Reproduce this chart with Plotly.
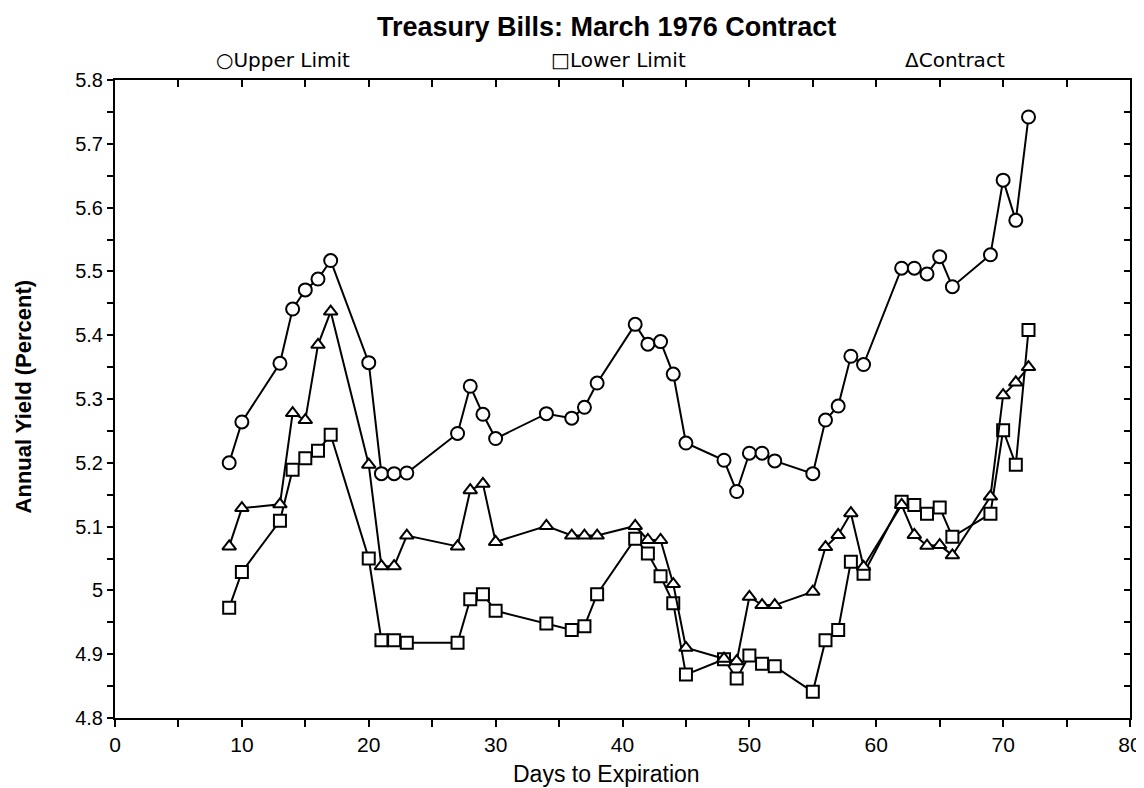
import plotly.graph_objects as go

days = [9, 10, 13, 14, 15, 16, 17, 20, 21, 22, 23, 27, 28, 29, 30, 34, 36, 37, 38,
        41, 42, 43, 44, 45, 48, 49, 50, 51, 52, 55, 56, 57, 58, 59, 62, 63, 64, 65,
        66, 69, 70, 71, 72]

upper_limit = [5.200, 5.264, 5.356, 5.441, 5.471, 5.488, 5.517, 5.357, 5.183, 5.183,
               5.184, 5.246, 5.320, 5.276, 5.238, 5.277, 5.270, 5.287, 5.325, 5.417,
               5.386, 5.390, 5.339, 5.231, 5.204, 5.155, 5.215, 5.215, 5.203, 5.183,
               5.267, 5.289, 5.367, 5.354, 5.505, 5.505, 5.496, 5.523, 5.476, 5.526,
               5.643, 5.580, 5.742]

lower_limit = [4.973, 5.029, 5.109, 5.189, 5.207, 5.219, 5.244, 5.050, 4.922, 4.922,
               4.918, 4.918, 4.986, 4.994, 4.968, 4.948, 4.938, 4.944, 4.994, 5.081,
               5.058, 5.022, 4.980, 4.868, 4.892, 4.862, 4.898, 4.885, 4.881, 4.841,
               4.922, 4.938, 5.045, 5.026, 5.139, 5.134, 5.120, 5.130, 5.084, 5.120,
               5.251, 5.197, 5.408]

contract = [5.069, 5.129, 5.135, 5.278, 5.267, 5.385, 5.437, 5.197, 5.038, 5.038,
            5.086, 5.069, 5.157, 5.167, 5.076, 5.101, 5.086, 5.086, 5.086, 5.101,
            5.079, 5.079, 5.010, 4.910, 4.893, 4.889, 4.990, 4.977, 4.977, 4.998,
            5.068, 5.087, 5.121, 5.037, 5.134, 5.087, 5.070, 5.071, 5.055, 5.147,
            5.306, 5.326, 5.350]

x_ticks = [0, 10, 20, 30, 40, 50, 60, 70, 80]
y_ticks = [4.8, 4.9, 5.0, 5.1, 5.2, 5.3, 5.4, 5.5, 5.6, 5.7, 5.8]
y_ticktext = ["4.8", "4.9", "5", "5.1", "5.2", "5.3", "5.4", "5.5", "5.6", "5.7", "5.8"]

title_text = "Treasury Bills: March 1976 Contract"
x_title = "Days to Expiration"
y_title = "Annual Yield (Percent)"
legend_items = ["○Upper Limit", "□Lower Limit", "ΔContract"]

SANS = "Liberation Sans, Arial, sans-serif"

fig = go.Figure()

series = [
    (upper_limit, "circle", 13, "Upper Limit", "x", "y"),
    (lower_limit, "square", 12, "Lower Limit", "x", "y"),
    (contract, "triangle-up", 12, "Contract", "x2", "y2"),
]
for vals, sym, size, name, xa, ya in series:
    fig.add_trace(go.Scatter(
        x=days, y=vals, mode="lines+markers", name=name, xaxis=xa, yaxis=ya,
        line=dict(color="black", width=2),
        marker=dict(symbol=sym, size=size, color="white",
                    line=dict(color="black", width=2)),
        showlegend=False,
    ))

axis_common = dict(showgrid=False, zeroline=False, linecolor="black", linewidth=2,
                   automargin=False)

fig.update_layout(
    width=1136, height=780,
    paper_bgcolor="white", plot_bgcolor="white",
    margin=dict(l=107, r=14, t=72, b=70),
    xaxis=dict(range=[0, 80], tickvals=x_ticks, ticks="outside", ticklen=7,
               tickwidth=2, tickcolor="black",
               minor=dict(dtick=5, ticks="outside", ticklen=7, tickwidth=2, tickcolor="black"),
               tickfont=dict(family=SANS, size=21, color="black"),
               **axis_common),
    yaxis=dict(range=[4.8, 5.8], tickvals=y_ticks, ticktext=y_ticktext, ticks="outside",
               ticklen=6, tickwidth=2, tickcolor="black",
               minor=dict(dtick=0.05, ticks="outside", ticklen=6, tickwidth=2, tickcolor="black"),
               tickfont=dict(family=SANS, size=20, color="black"),
               **axis_common),
    xaxis2=dict(range=[0, 80], overlaying="x", side="top", anchor="y2", dtick=10,
                ticks="inside", ticklen=7, tickwidth=2, tickcolor="black",
                minor=dict(dtick=5, ticks="inside", ticklen=7, tickwidth=2, tickcolor="black"),
                showticklabels=False, **axis_common),
    yaxis2=dict(range=[4.8, 5.8], overlaying="y", side="right", anchor="x2", dtick=0.1,
                ticks="inside", ticklen=6, tickwidth=2, tickcolor="black",
                minor=dict(dtick=0.05, ticks="inside", ticklen=6, tickwidth=2, tickcolor="black"),
                showticklabels=False, **axis_common),
    showlegend=False,
)

fig.add_annotation(text="<b>" + title_text + "</b>", xref="paper", yref="paper",
                   x=0.484, y=1.0, yshift=53, showarrow=False, xanchor="center", yanchor="middle",
                   font=dict(family=SANS, size=27, color="black"))

legend_x = [0.166, 0.496, 0.828]
for txt, lx in zip(legend_items, legend_x):
    fig.add_annotation(text=txt, xref="paper", yref="paper", x=lx, y=1.0, yshift=20,
                       showarrow=False, xanchor="center", yanchor="middle",
                       font=dict(family="DejaVu Sans, sans-serif", size=20, color="black"))

fig.add_annotation(text=x_title, xref="paper", yref="paper", x=0.484, y=0.0, yshift=-56,
                   showarrow=False, xanchor="center", yanchor="middle",
                   font=dict(family=SANS, size=23, color="black"))

fig.add_annotation(text="<b>" + y_title + "</b>", xref="paper", yref="paper", x=0.0, y=0.504,
                   xshift=-92, textangle=-90, showarrow=False, xanchor="center", yanchor="middle",
                   font=dict(family=SANS, size=22, color="black"))

fig.write_html("out.html")
